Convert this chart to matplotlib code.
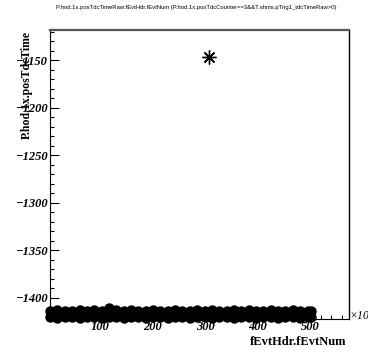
import numpy as np
import matplotlib.pyplot as plt
from matplotlib.ticker import MultipleLocator

# event number (x10^3) and TDC time for the dense band at the bottom
evt_num = [5, 19, 33, 47, 61, 75, 89, 103, 117, 131, 145, 159, 173, 187,
           201, 215, 229, 243, 257, 271, 285, 299, 313, 327, 341, 355,
           369, 383, 397, 411, 425, 439, 453, 467, 481, 495, 502]
evt_num_mid = [12, 26, 40, 54, 68, 82, 96, 110, 124, 138, 152, 166, 180,
               194, 208, 222, 236, 250, 264, 278, 292, 306, 320, 334, 348,
               362, 376, 390, 404, 418, 432, 446, 460, 474, 488, 499]
tdc_upper = [-1414, -1413, -1414, -1414, -1413, -1414, -1413, -1414, -1411,
             -1413, -1414, -1413, -1414, -1414, -1413, -1414, -1414, -1413,
             -1414, -1414, -1413, -1414, -1413, -1414, -1414, -1413, -1414,
             -1413, -1414, -1414, -1413, -1414, -1414, -1413, -1414, -1414,
             -1414]
tdc_mid = [-1417, -1417, -1416, -1417, -1417, -1416, -1417, -1417, -1417,
           -1416, -1417, -1417, -1416, -1417, -1417, -1417, -1416, -1417,
           -1417, -1416, -1417, -1417, -1417, -1416, -1417, -1417, -1416,
           -1417, -1417, -1417, -1416, -1417, -1417, -1416, -1417, -1417]
tdc_lower = [-1420, -1421, -1420, -1420, -1421, -1420, -1420, -1421, -1420,
             -1420, -1421, -1420, -1420, -1421, -1420, -1420, -1421, -1420,
             -1420, -1421, -1420, -1420, -1421, -1420, -1420, -1421, -1420,
             -1420, -1421, -1420, -1420, -1421, -1420, -1420, -1421, -1420,
             -1420]
# single outlier
out_evt = [307]
out_tdc = [-1146]

title = ('P.hod.1x.posTdcTimeRaw:fEvtHdr.fEvtNum {P.hod.1x.posTdcCounter==3'
         '&&T.shms.pTrig1_tdcTimeRaw>0}')

fig = plt.figure(figsize=(3.68, 3.52), dpi=100)
ax = fig.add_axes([50/368, 33/352, 299/368, 289/352])

for xs, ys in [(evt_num, tdc_upper), (evt_num_mid, tdc_mid),
               (evt_num, tdc_lower)]:
    ax.plot(xs, ys, 'o', color='black', ms=7.5, mew=0,
            clip_on=False, zorder=5)
ax.plot(out_evt, out_tdc, marker=(8, 2, 0), color='black', ms=10, mew=1.0,
        ls='none', zorder=5)

ax.set_xlim(4.8, 574)
ax.set_ylim(-1422.4, -1118)

ax.xaxis.set_major_locator(MultipleLocator(100))
ax.xaxis.set_minor_locator(MultipleLocator(20))
ax.yaxis.set_major_locator(MultipleLocator(50))
ax.yaxis.set_minor_locator(MultipleLocator(10))

ax.tick_params(which='both', direction='in', top=False, right=False,
               width=0.8)
ax.tick_params(which='major', length=6.5)
ax.tick_params(which='minor', length=3)
ax.tick_params(axis='x', pad=1.5)
ax.tick_params(axis='y', pad=2)
for lab in ax.get_xticklabels() + ax.get_yticklabels():
    lab.set_fontfamily('Liberation Serif')
    lab.set_fontstyle('italic')
    lab.set_fontweight('bold')
    lab.set_fontsize(9)
ax.xaxis.set_major_formatter(lambda v, p: f'{v:.0f}')
ax.yaxis.set_major_formatter(lambda v, p: f'\u2212{abs(v):.0f}' if v < 0 else f'{v:.0f}')

ax.spines['top'].set_color('#555555')
ax.spines['top'].set_linewidth(1.6)
ax.spines['right'].set_linewidth(1.0)

ax.set_xlabel('fEvtHdr.fEvtNum', fontfamily='Liberation Serif',
              fontweight='bold', fontsize=9, loc='right')
ax.xaxis.set_label_coords(0.99, -0.08)
ax.xaxis.label.set_va('center')
ax.set_ylabel('P.hod.1x.posTdcTime', fontfamily='Liberation Serif',
              fontweight='bold', fontsize=8.5, loc='top')
ax.yaxis.set_label_coords(-0.056, 0.995)

fig.text(349/368, 37/352, '\u00d710$^{3}$', fontfamily='Liberation Serif',
         style='italic', fontsize=8.5, va='center', ha='left')
fig.text(196/368, 344/352, title, fontfamily='Liberation Sans', fontsize=4.2,
         ha='center', va='center')

fig.savefig('out.png', dpi=100)
